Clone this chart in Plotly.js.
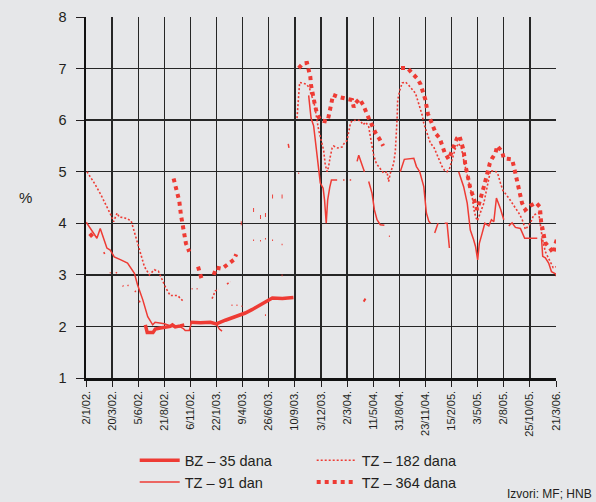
<!DOCTYPE html>
<html><head><meta charset="utf-8">
<script src="https://cdn.plot.ly/plotly-3.0.1.min.js"></script>
<style>html,body{margin:0;padding:0;background:#e6e7e9}</style>
</head><body><div id="chart" style="width:596px;height:502px"></div>
<script>
// x = weekly auction number since 2/1/02 (ticks every 11 auctions)
const tickLabels = ['2/1/02.','20/3/02.','5/6/02.','21/8/02.','6/11/02.','22/1/03.','9/4/03.','26/6/03.','10/9/03.','3/12/03.','2/3/04.','11/5/04.','31/8/04.','23/11/04.','15/2/05.','3/5/05.','2/8/05.','25/10/05.','21/3/06.'];
const tickPos = [0,11,22,33,44,55,66,77,88,99,110,121,132,143,154,165,176,187,198];
const yTicks = [1,2,3,4,5,6,7,8];

// [auction, %] ; null = no auction
const bz35 = [[25.0,2.03],[25.8,1.88],[28.2,1.88],[29.2,1.95],[31.3,1.97],[33.4,1.98],[35.5,2.00],[36.4,2.03],[37.6,1.99],[39.7,2.01],[41.4,2.03],null,
 [43.9,2.08],[48.2,2.07],[52.4,2.08],[54.9,2.05],[58.7,2.12],[62.9,2.19],[67.1,2.26],[70.1,2.33],[73.4,2.41],[75.6,2.48],[78.5,2.55],[82.7,2.54],[87.4,2.56],null,
 [117.0,2.52],[117.7,2.50]];

const tz91 = [[0.1,4.02],[2.8,3.84],[4.6,3.71],[6.0,3.90],[8.8,3.52],[10.2,3.48],[11.9,3.35],[14.7,3.29],[17.5,3.23],[20.4,3.03],[21.7,2.81],[23.9,2.52],[26.0,2.19],[28.1,2.03],[29.1,2.08],[33.0,2.05],[36.4,2.00],[39.7,1.99],[41.0,1.96],[41.8,1.92],[43.5,1.92],[44.4,2.07],[48.2,2.06],[52.4,2.07],[54.9,2.05],[56.2,1.95],[57.3,1.91],null,
 [85.2,5.54],[85.5,5.46],null,
 [89.4,4.97],[89.8,4.97],null,
 [93.8,6.48],[94.8,6.04],[95.9,5.89],[96.6,5.62],[98.0,5.07],[98.7,4.78],[99.9,4.68],[100.5,4.45],[101.2,4.00],[101.8,4.45],[102.7,4.70],[103.4,4.84],[105.8,4.84],null,
 [108.3,4.84],[108.9,4.84],null,[111.1,4.84],[111.7,4.84],null,
 [114.2,5.20],[114.9,5.32],[116.3,5.13],[117.3,5.00],null,
 [119.1,4.81],[120.5,4.58],[121.5,4.26],[122.6,4.07],[124.0,3.97],[125.7,3.96],null,
 [127.6,3.75],[128.0,3.75],null,
 [132.4,5.00],[134.1,5.24],[138.1,5.26],[139.2,5.10],[140.6,5.00],[142.3,4.71],[143.4,4.20],[144.4,4.04],[145.1,4.00],null,
 [146.9,3.81],[148.3,4.00],null,
 [151.1,4.00],[152.1,4.00],[153.1,3.52],null,
 [157.0,5.00],[159.1,4.71],[160.6,4.39],[161.9,3.87],[163.3,3.68],[164.1,3.55],[165.0,3.29],[165.7,3.61],[166.9,3.81],[168.0,4.00],[169.7,3.95],[170.8,4.07],[171.8,4.03],[172.9,4.49],[174.6,4.28],[176.0,4.07],null,
 [178.1,3.95],[179.5,4.01],[180.9,3.92],[183.0,3.90],[184.8,3.71],[190.1,3.71],null,
 [191.9,3.71],[192.4,3.36],[193.5,3.33],[194.9,3.23],[196.1,3.06],[197.8,3.02],[198.5,2.94]];

const tz182 = [[0.4,5.00],[3.5,4.78],[6.3,4.55],[8.4,4.36],[10.5,4.16],[11.6,4.03],[13.1,4.20],[14.0,4.12],[16.1,4.11],[19.0,4.05],[20.4,3.84],[21.7,3.61],[23.2,3.39],[24.6,3.16],[26.7,3.00],[28.8,3.10],[30.5,3.07],[32.3,2.88],[33.7,2.74],[35.5,2.60],[38.6,2.60],[40.7,2.50],null,
 [7.5,3.44],[7.9,3.40],null,[10.0,3.04],[10.4,3.04],null,[12.6,3.05],[13.0,3.03],null,[15.4,2.79],[15.8,2.78],null,[17.5,2.80],[17.9,2.79],null,
 [20.6,2.69],[21.0,2.67],null,[22.4,2.50],[22.8,2.46],null,[44.5,2.73],[44.9,2.73],null,[46.6,2.73],[47.0,2.73],null,
 [53.1,2.54],[54.5,2.69],[55.9,2.72],null,[59.4,2.82],[60.8,2.87],null,[61.3,2.41],[61.7,2.41],null,[63.4,2.41],[63.8,2.41],null,
 [65.5,2.39],[65.9,2.39],null,[75.4,2.22],[75.8,2.22],null,[82.4,2.99],[82.8,2.99],null,
 [70.4,3.67],[70.8,3.67],null,[73.3,3.66],[73.7,3.66],null,[75.4,3.70],[75.8,3.70],null,[78.4,3.67],[78.8,3.67],null,[82.4,3.59],[82.8,3.59],null,
 [88.9,6.04],[89.6,6.59],[90.0,6.73],[91.0,6.72],[92.8,6.70],[94.2,6.62],[94.8,6.49],[95.9,6.39],[96.6,6.20],[97.3,5.94],[98.0,5.81],[98.7,5.68],[99.5,5.55],[100.1,5.42],[100.5,5.26],[100.8,5.13],[101.6,5.00],[102.2,5.10],[102.9,5.29],[103.7,5.46],[104.3,5.50],[106.0,5.46],[107.9,5.48],[108.6,5.54],[110.0,5.61],[110.7,5.81],[111.4,5.94],[112.1,5.99],[114.2,6.00],[115.6,5.99],[116.7,5.91],[117.9,5.96],[119.1,5.87],[119.8,5.68],[120.5,5.48],[121.2,5.32],[122.3,5.16],[123.7,5.07],[125.4,4.97],[126.8,5.00],[127.5,4.81],[128.2,4.97],[129.0,5.10],[129.6,5.16],[130.3,5.39],[130.8,5.74],[131.1,6.07],[131.3,6.39],[132.2,6.58],[133.2,6.72],[134.6,6.74],[135.9,6.68],[137.4,6.60],[138.8,6.52],[139.7,6.39],[140.6,6.26],[141.6,6.10],[142.3,5.94],[143.3,5.81],[144.4,5.68],[145.1,5.55],[146.5,5.48],[148.6,5.23],[150.0,5.10],[151.0,5.03],[152.1,5.00],[153.2,5.07],[153.9,5.19],[154.7,5.32],[155.6,5.45],[157.0,5.55],[158.2,5.45],[159.1,5.23],[159.8,5.10],[160.6,4.94],[161.2,4.81],[161.9,4.65],[162.7,4.52],[163.3,4.30],[164.1,4.13],[164.9,4.05],[166.2,4.20],[167.6,4.39],[168.3,4.55],[169.0,4.71],[169.7,4.90],[170.4,5.02],[172.8,5.00],[173.6,4.94],[174.6,4.78],[175.6,4.64],[178.1,4.49],[179.5,4.39],[180.9,4.31],[182.3,4.20],[183.7,4.08],[184.4,3.96],[185.1,3.88],[187.2,4.00],[188.6,4.16],[190.7,4.20],[192.2,3.72],[193.5,3.45],[194.9,3.33],[196.8,3.14],[198.5,3.16]];

const tz364 = [[1.6,3.80],[2.8,3.74],null,
 [36.9,4.87],[38.3,4.58],[39.3,4.43],[40.0,4.16],[41.1,3.87],[42.1,3.61],[43.5,3.45],null,
 [47.2,3.16],[48.2,3.03],[48.9,2.89],null,
 [53.8,3.00],[54.9,3.14],[57.3,3.12],[59.8,3.20],[62.2,3.29],[63.3,3.40],null,
 [65.2,4.00],[65.6,4.00],null,[70.4,4.26],[70.8,4.26],null,[73.3,4.12],[73.7,4.12],null,[75.4,4.16],[75.8,4.16],null,[78.4,4.52],[78.8,4.52],null,[82.4,4.52],[82.8,4.52],null,
 [89.6,7.01],[91.4,7.10],[93.1,7.11],[93.8,6.97],[94.5,6.84],[94.8,6.68],[95.2,6.55],[95.9,6.42],[96.6,6.26],[97.3,6.13],[98.7,6.00],[101.6,5.97],[102.2,6.07],[102.9,6.20],[103.7,6.39],[104.1,6.49],[106.4,6.45],[109.3,6.41],[112.1,6.39],[112.8,6.25],[113.5,6.33],[115.2,6.41],[116.7,6.30],[119.1,6.04],[120.5,5.89],[121.9,5.76],[123.7,5.63],[125.2,5.50],null,
 [132.7,7.01],[135.5,7.01],[137.4,6.91],[139.5,6.81],[140.9,6.70],[141.6,6.59],[143.0,6.39],[144.0,6.13],[145.1,5.99],[146.5,5.86],[147.5,5.73],[149.0,5.65],[150.0,5.50],[151.1,5.37],[152.8,5.24],[154.9,5.49],[156.3,5.65],[157.3,5.70],[158.4,5.54],[159.1,5.41],[159.8,5.13],[160.6,4.94],[161.2,4.81],[161.9,4.68],[163.1,4.52],[163.8,4.39],[164.8,4.26],[165.7,4.40],[166.9,4.58],[167.8,4.74],[169.4,5.03],[170.1,5.16],[171.1,5.26],[172.5,5.36],[173.2,5.50],[175.3,5.39],[176.0,5.26],[179.5,5.24],[180.2,5.11],[181.6,4.81],[183.0,4.52],[183.7,4.39],[185.1,4.26],[187.2,4.34],[189.6,4.40],[191.2,4.32],[191.7,4.04],[192.2,3.89],[192.8,3.75],[193.5,3.62],[195.4,3.52],[197.0,3.42],[197.5,3.56],[198.5,3.71]];

const RED = '#ee3b34';
function xs(a){return a.map(p=>p?p[0]:null);}
function ys(a){return a.map(p=>p?p[1]:null);}

const traces = [
 {x:xs(tz364),y:ys(tz364),name:'TZ – 364 dana',legendrank:4,mode:'lines',line:{color:RED,width:4,dash:'4px,4px'}},
 {x:xs(tz182),y:ys(tz182),name:'TZ – 182 dana',legendrank:2,mode:'lines',line:{color:RED,width:1.6,dash:'2px,2px'}},
 {x:xs(tz91),y:ys(tz91),name:'TZ – 91 dan',legendrank:3,mode:'lines',line:{color:RED,width:1.5}},
 {x:xs(bz35),y:ys(bz35),name:'BZ – 35 dana',legendrank:1,mode:'lines',line:{color:RED,width:3.5}}
];
traces.forEach(t=>{t.connectgaps=false;t.hoverinfo='skip';});

const FONT = 'Arial, "Liberation Sans", Helvetica, sans-serif';
const layout = {
 width:596,height:502,
 paper_bgcolor:'#e6e7e9',plot_bgcolor:'#e6e7e9',
 margin:{l:86,r:40,t:17,b:124,autoexpand:false},
 font:{family:FONT,color:'#231f20'},
 showlegend:true,
 xaxis:{range:[0,198],tickmode:'array',tickvals:tickPos,ticktext:tickLabels,tickangle:-90,automargin:false,
   tickfont:{size:11,color:'#231f20'},ticks:'outside',ticklen:6,tickcolor:'#231f20',tickwidth:1,
   showgrid:true,gridcolor:'#262626',gridwidth:1.3,zeroline:false,
   showline:true,linecolor:'#111',linewidth:2.5,fixedrange:true},
 yaxis:{range:[1,8],tickmode:'array',tickvals:yTicks,tickfont:{size:14.5,color:'#231f20'},automargin:false,
   ticks:'outside',ticklen:8,tickcolor:'#231f20',tickwidth:1,ticklabelstandoff:6,
   showgrid:true,gridcolor:'#262626',gridwidth:1.3,zeroline:false,
   showline:true,linecolor:'#111',linewidth:2.5,fixedrange:true},
 legend:{orientation:'h',xref:'container',yref:'container',x:0.226,xanchor:'left',y:0.115,yanchor:'top',
   font:{size:14.5,color:'#231f20'},bgcolor:'rgba(0,0,0,0)',entrywidth:122,itemwidth:40,traceorder:'normal'},
 annotations:[
  {text:'%',xref:'paper',yref:'paper',x:-0.147,y:0.50,showarrow:false,font:{size:15,color:'#231f20'}},
  {text:'Izvori: MF; HNB',xref:'paper',yref:'paper',x:1.081,xanchor:'right',y:-0.345,yanchor:'bottom',showarrow:false,font:{size:12,color:'#231f20'}}
 ]
};
Plotly.newPlot('chart',traces,layout,{staticPlot:true,displayModeBar:false});
</script>
</body></html>
